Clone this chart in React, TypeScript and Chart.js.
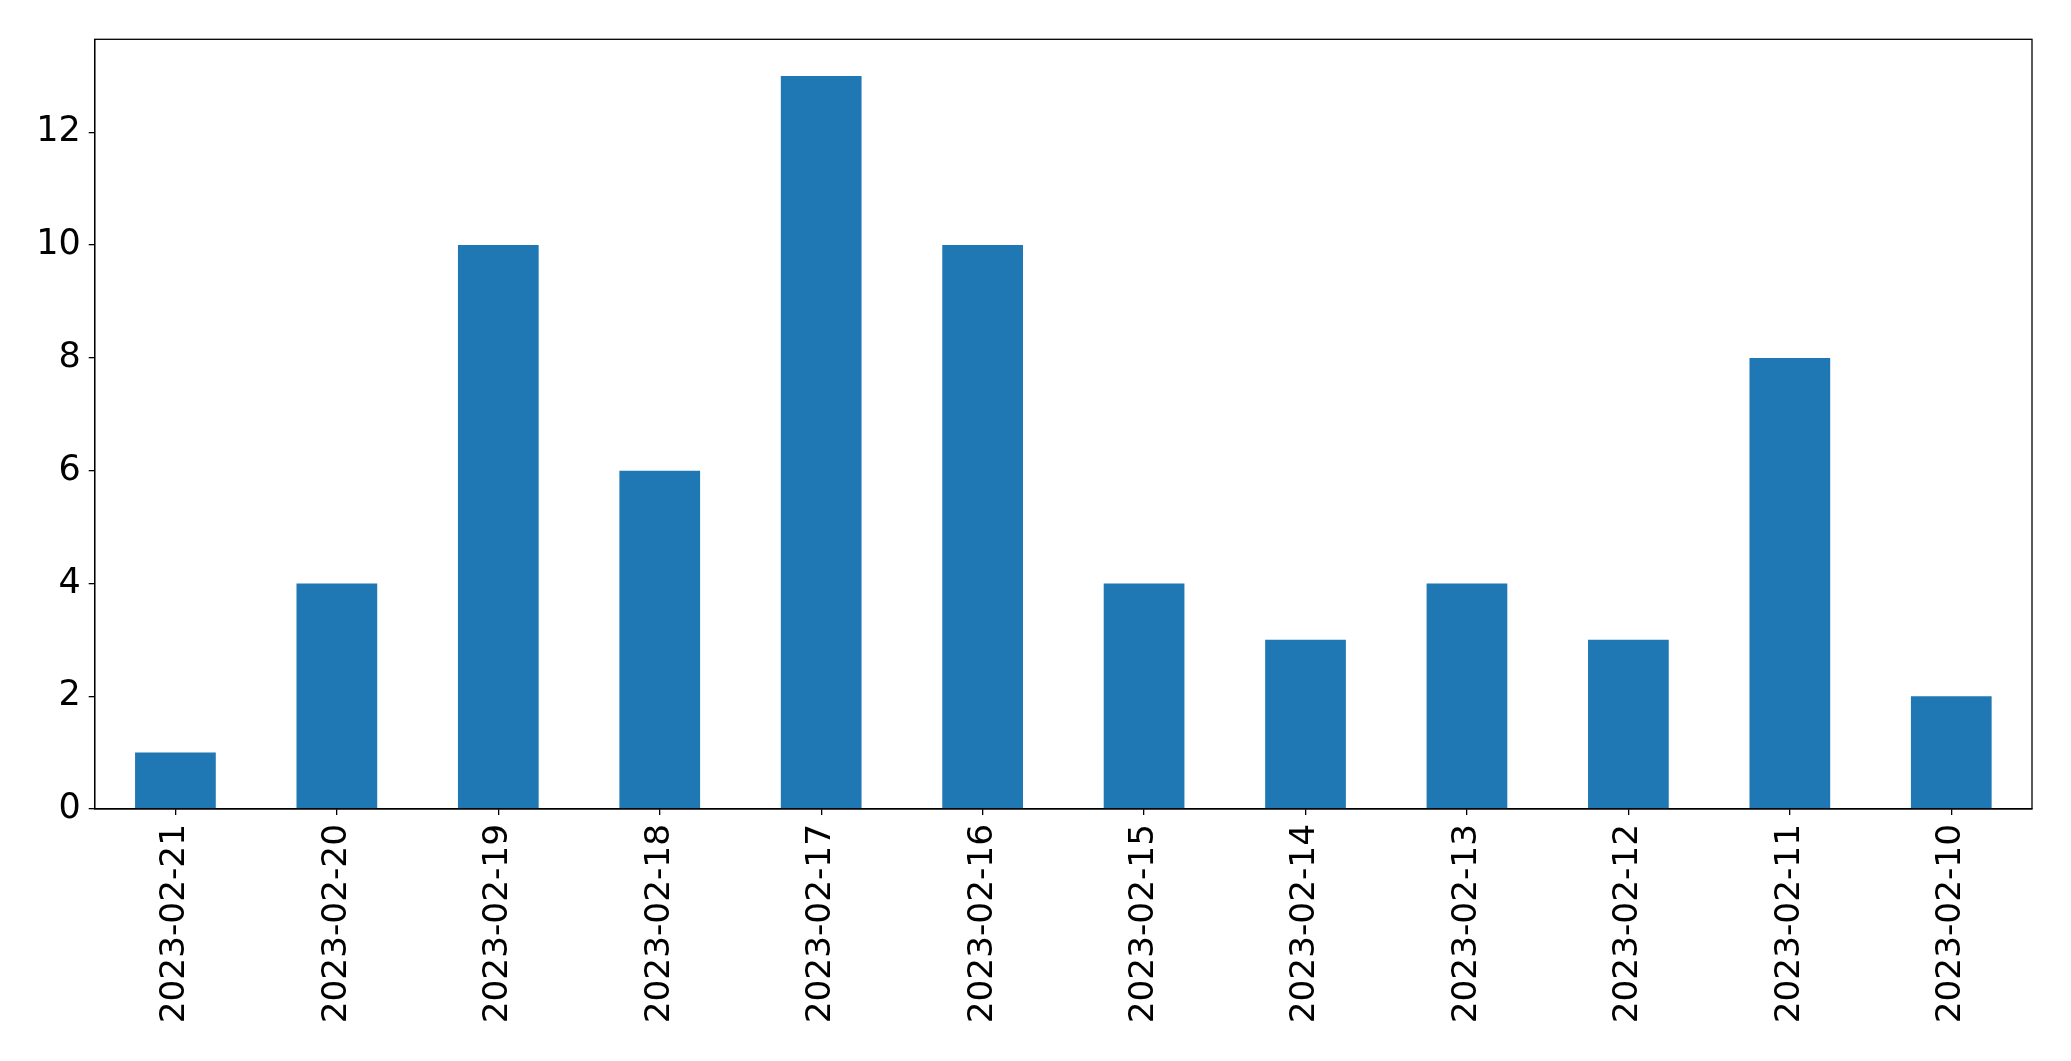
import React, { useEffect, useRef } from "react";
import { Chart, registerables } from "chart.js";

Chart.register(...registerables);

const categories = [
  "2023-02-21", "2023-02-20", "2023-02-19", "2023-02-18", "2023-02-17", "2023-02-16",
  "2023-02-15", "2023-02-14", "2023-02-13", "2023-02-12", "2023-02-11", "2023-02-10",
];
const counts = [1, 4, 10, 6, 13, 10, 4, 3, 4, 3, 8, 2];
const yTicks = [0, 2, 4, 6, 8, 10, 12];

const W = 2071;
const H = 1061;
const LEFT = 94.7;
const RIGHT = 2032;
const TOP = 39.3;
const BOTTOM = 809;

const boxPlugin = {
  id: "box",
  afterDraw(chart: any) {
    const { ctx, chartArea } = chart;
    ctx.save();
    ctx.strokeStyle = "#000";
    ctx.lineWidth = 1.3;
    ctx.strokeRect(chartArea.left, chartArea.top, chartArea.right - chartArea.left, chartArea.bottom - chartArea.top);
    ctx.restore();
  },
};

export default function App() {
  const ref = useRef<HTMLCanvasElement>(null);
  useEffect(() => {
    document.body.style.margin = "0";
    const xFont = { family: "'DejaVu Sans', sans-serif", size: 34.3 };
    const yFont = { family: "'DejaVu Sans', sans-serif", size: 35 };
    const chart = new Chart(ref.current!, {
      type: "bar",
      data: {
        labels: categories,
        datasets: [
          {
            data: counts,
            backgroundColor: "#1f77b4",
            borderWidth: 0,
            categoryPercentage: 1,
            barPercentage: 0.5,
          },
        ],
      },
      options: {
        responsive: false,
        animation: false,
        devicePixelRatio: 1,
        layout: { padding: { left: 0, top: TOP, right: W - RIGHT, bottom: 0 } },
        plugins: { legend: { display: false }, tooltip: { enabled: false } },
        scales: {
          x: {
            grid: { offset: false, drawOnChartArea: false, drawTicks: true, tickLength: 6, color: "#000", lineWidth: 1.3 },
            border: { display: true, color: "#000", width: 1.3 },
            ticks: { color: "#000", font: xFont, minRotation: 90, maxRotation: 90, padding: 9, autoSkip: false },
            afterFit(scale: any) {
              scale.height = H - BOTTOM;
            },
          },
          y: {
            min: 0,
            max: 13.65,
            grid: { drawOnChartArea: false, drawTicks: true, tickLength: 6, color: "#000", lineWidth: 1.3 },
            border: { display: true, color: "#000", width: 1.3 },
            ticks: { color: "#000", font: yFont, stepSize: 2, includeBounds: false, padding: 8 },
            afterBuildTicks(scale: any) {
              scale.ticks = yTicks.map((v) => ({ value: v }));
            },
            afterFit(scale: any) {
              scale.width = LEFT;
            },
          },
        },
      },
      plugins: [boxPlugin],
    });
    return () => chart.destroy();
  }, []);
  return (
    <div style={{ width: W, height: H, background: "#fff" }}>
      <canvas ref={ref} width={W} height={H} style={{ display: "block" }} />
    </div>
  );
}
